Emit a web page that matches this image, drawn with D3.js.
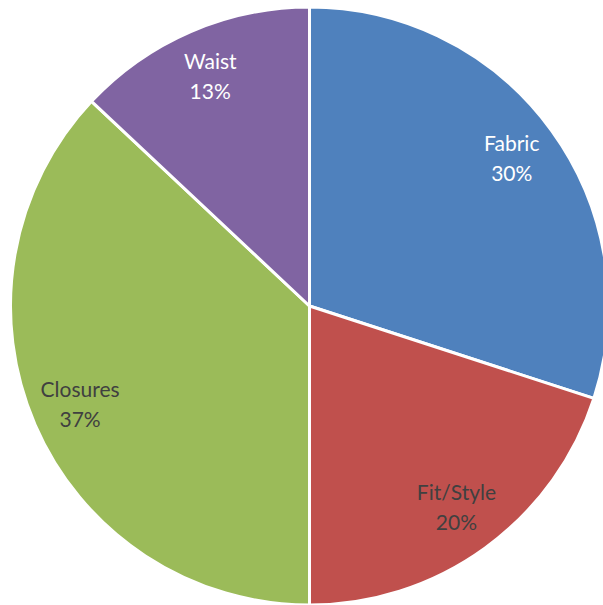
<!DOCTYPE html>
<html>
<head>
<meta charset="utf-8">
<script src="https://cdn.jsdelivr.net/npm/d3@7"></script>
<style>
  html, body { margin: 0; padding: 0; background: #fff; }
  svg { display: block; }
</style>
</head>
<body>
<svg id="chart" width="603" height="605"></svg>
<script>
// Share of responses by category
const categories = ["Fabric", "Fit/Style", "Closures", "Waist"];
const values = [30, 20, 37, 13];
const colors = ["#4F81BD", "#C0504D", "#9BBB59", "#8064A2"];
const labelColors = ["#ffffff", "#404040", "#404040", "#ffffff"];

const svg = d3.select("#chart");
const cx = 309.5, cy = 306, R = 299;

const data = categories.map((c, i) => ({ name: c, value: values[i], i }));
const pie = d3.pie().value(d => d.value).sort(null);
const arcs = pie(data);

const arc = d3.arc().innerRadius(0).outerRadius(R);
const labelArc = d3.arc().innerRadius(250).outerRadius(250);

const g = svg.append("g").attr("transform", `translate(${cx},${cy})`);

g.selectAll("path.slice")
  .data(arcs)
  .join("path")
  .attr("class", "slice")
  .attr("d", arc)
  .attr("fill", d => colors[d.data.i])
  .attr("stroke", "#ffffff")
  .attr("stroke-width", 3)
  .attr("stroke-linejoin", "round");

const total = d3.sum(values);
const labels = g.selectAll("text.lbl")
  .data(arcs)
  .join("text")
  .attr("class", "lbl")
  .attr("transform", d => `translate(${labelArc.centroid(d)})`)
  .attr("text-anchor", "middle")
  .attr("font-family", "Lato, 'Open Sans', sans-serif")
  .attr("font-size", 21)
  .attr("fill", d => labelColors[d.data.i]);

labels.append("tspan")
  .attr("x", 0)
  .attr("y", -8)
  .text(d => d.data.name);
labels.append("tspan")
  .attr("x", 0)
  .attr("y", 22)
  .text(d => Math.round(d.data.value / total * 100) + "%");
</script>
</body>
</html>
